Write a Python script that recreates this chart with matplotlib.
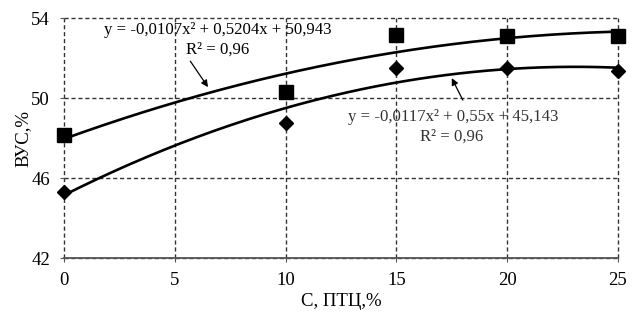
import numpy as np
import matplotlib
matplotlib.use("Agg")
import matplotlib.pyplot as plt

plt.rcParams['font.family'] = ['Liberation Serif', 'DejaVu Serif']

# data
x_pts = [0, 10, 15, 20, 25]
vus_top = [48.15, 50.3, 53.15, 53.1, 53.1]
vus_bot = [45.3, 48.75, 51.5, 51.5, 51.35]
x_ticks = [0, 5, 10, 15, 20, 25]
y_ticks = [42, 46, 50, 54]
eq_top = "y = -0,0107x² + 0,5204x + 50,943"
eq_bot = "y = -0,0117x² + 0,55x + 45,143"
r2_txt = "R² = 0,96"

fig = plt.figure(figsize=(6.36, 3.30), dpi=100)
ax = fig.add_axes([0.1006, 0.218, 0.871, 0.727])

xs = np.linspace(0, 25, 200)
for ys, mk, ms in [(vus_top, "s", 10), (vus_bot, "D", 7.5)]:
    c = np.polyfit(x_pts, ys, 2)
    ax.plot(xs, np.polyval(c, xs), color="black", lw=1.9, zorder=3)
    ax.plot(x_pts, ys, ls="none", marker=mk, ms=ms, color="black", zorder=4, clip_on=False)

ax.set_xlim(0, 25); ax.set_ylim(42, 54)
ax.set_xticks(x_ticks); ax.set_yticks(y_ticks)
ax.grid(True, ls=(0, (3, 2)), color="#333333", lw=1.0)
for s in ["top", "right", "left"]:
    ax.spines[s].set_visible(False)
ax.spines["bottom"].set_color("#555555"); ax.spines["bottom"].set_linewidth(1.3)
ax.tick_params(labelsize=13.5, length=3, color="#555555", pad=7)
for l in ax.get_xgridlines() + ax.get_ygridlines():
    l.set_clip_on(False)

ax.set_xlabel("С, ПТЦ,%", fontsize=13.5, labelpad=3)
ax.set_ylabel("ВУС,%", fontsize=13.5, labelpad=0)

fs = 12.1
ax.text(6.95, 53.4, eq_top, fontsize=fs, ha="center", va="center")
ax.text(6.95, 52.4, r2_txt, fontsize=fs, ha="center", va="center")
ax.annotate("", xy=(6.5, 50.55), xytext=(5.7, 51.85),
            arrowprops=dict(arrowstyle="-|>", color="black", lw=0.9, mutation_scale=10, shrinkA=0, shrinkB=0))
ax.text(17.58, 49.05, eq_bot, fontsize=fs, ha="center", va="center", color="#333333")
ax.text(17.5, 48.05, r2_txt, fontsize=fs, ha="center", va="center", color="#333333")
ax.annotate("", xy=(17.5, 51.0), xytext=(18.0, 49.9),
            arrowprops=dict(arrowstyle="-|>", color="black", lw=0.9, mutation_scale=10, shrinkA=0, shrinkB=0))

fig.savefig("out.png", dpi=100)
